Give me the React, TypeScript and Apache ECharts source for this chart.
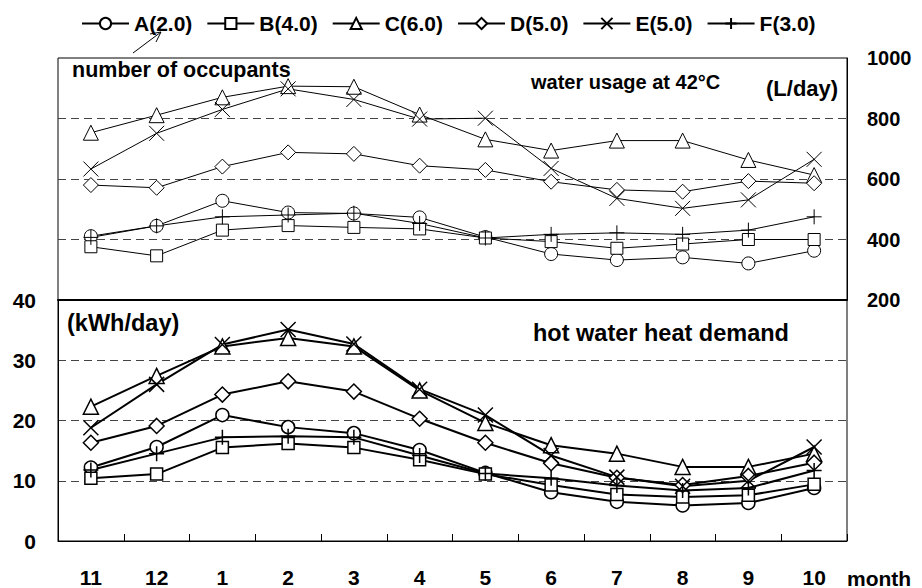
import React, { useEffect, useRef } from "react";
import * as echarts from "echarts";

const months = ["11", "12", "1", "2", "3", "4", "5", "6", "7", "8", "9", "10"];
const seriesNames = ["A(2.0)", "B(4.0)", "C(6.0)", "D(5.0)", "E(5.0)", "F(3.0)"];

// water usage at 42°C (L/day)
const waterA = [411, 445, 528, 489, 486, 473, 408, 352, 332, 341, 321, 363];
const waterB = [376, 346, 431, 446, 440, 435, 405, 393, 371, 385, 400, 400];
const waterC = [753, 811, 870, 907, 905, 813, 731, 694, 727, 727, 663, 613];
const waterD = [580, 571, 641, 688, 683, 644, 630, 591, 564, 558, 593, 586];
const waterE = [633, 751, 830, 898, 863, 798, 801, 635, 536, 503, 531, 665];
const waterF = [407, 445, 475, 481, 487, 453, 405, 417, 422, 417, 431, 475];

// hot water heat demand (kWh/day)
const heatA = [12.2, 15.6, 20.9, 18.9, 17.9, 15.1, 11.3, 8.1, 6.5, 5.9, 6.3, 8.8];
const heatB = [10.4, 11.1, 15.5, 16.2, 15.5, 13.5, 11.1, 9.3, 7.7, 7.3, 7.6, 9.4];
const heatC = [22.3, 27.4, 32.3, 33.7, 32.3, 25.0, 19.6, 15.9, 14.5, 12.3, 12.3, 14.5];
const heatD = [16.3, 19.1, 24.3, 26.5, 24.8, 20.3, 16.3, 12.9, 10.5, 9.3, 10.8, 13.0];
const heatE = [18.8, 26.0, 32.6, 35.1, 32.7, 25.2, 20.9, 14.2, 10.6, 9.1, 10.0, 15.6];
const heatF = [11.8, 14.5, 17.2, 17.4, 17.2, 14.2, 11.2, 10.4, 9.2, 8.4, 8.8, 11.7];

const waterTicks = { min: 200, max: 1000, interval: 200 };
const heatTicks = { min: 0, max: 40, interval: 10 };

const FONT = 'Arial, "Liberation Sans", sans-serif';

const symbols = [
  "circle",
  "rect",
  "triangle",
  "diamond",
  "path://M0,0L10,10M10,0L0,10",
  "path://M5,0L5,10M0,5L10,5",
];
const symbolSizes = [13, 12, 15, 15, 15, 15];

export default function App() {
  const ref = useRef<HTMLDivElement>(null);

  useEffect(() => {
    const chart = echarts.init(ref.current!, null, { renderer: "svg" });
    const water = [waterA, waterB, waterC, waterD, waterE, waterF];
    const heat = [heatA, heatB, heatC, heatD, heatE, heatF];

    const series: any[] = [];
    seriesNames.forEach((name, i) => {
      series.push({
        name,
        type: "line",
        xAxisIndex: 1,
        yAxisIndex: 1,
        data: heat[i],
        symbol: symbols[i],
        symbolSize: symbolSizes[i],
        lineStyle: { color: "#000", width: 2 },
        itemStyle: { color: "#fff", borderColor: "#000", borderWidth: 1.5 },
        z: 3,
      });
    });
    seriesNames.forEach((name, i) => {
      series.push({
        name,
        type: "line",
        xAxisIndex: 0,
        yAxisIndex: 0,
        data: water[i],
        symbol: symbols[i],
        symbolSize: symbolSizes[i],
        lineStyle: { color: "#000", width: 1 },
        itemStyle: { color: "#fff", borderColor: "#000", borderWidth: 1 },
        z: 3,
      });
    });

    const labelStyle = { color: "#000", fontSize: 20, fontWeight: "bold" as const, fontFamily: FONT };
    const splitStyle = {
      show: true,
      showMinLine: false,
      showMaxLine: false,
      lineStyle: { color: "#444", type: [8, 5] as any, width: 1 },
    };

    const txt = (text: string, x: number, y: number, size = 19) => ({
      type: "text",
      x,
      y,
      z: 10,
      style: {
        text,
        fill: "#000",
        font: `bold ${size}px ${FONT}`,
        textVerticalAlign: "middle",
        verticalAlign: "middle",
      },
    });

    chart.setOption({
      animation: false,
      backgroundColor: "#fff",
      textStyle: { fontFamily: FONT },
      legend: {
        data: seriesNames,
        left: 76,
        top: 8,
        itemWidth: 47,
        itemHeight: 14,
        itemGap: 14,
        textStyle: { ...labelStyle, fontSize: 21 },
      },
      grid: [
        { left: 58, right: 75, top: 58, height: 242, show: true, borderColor: "#000", borderWidth: 1 },
        { left: 58, right: 75, top: 300, height: 241, show: true, borderColor: "#000", borderWidth: 1 },
      ],
      xAxis: [
        {
          type: "category",
          gridIndex: 0,
          data: months,
          boundaryGap: true,
          position: "bottom",
          axisLine: { show: true, lineStyle: { color: "#000", width: 2 } },
          axisTick: { show: false },
          axisLabel: { show: false },
          splitLine: { show: false },
        },
        {
          type: "category",
          gridIndex: 1,
          data: months,
          boundaryGap: true,
          position: "bottom",
          axisLine: { show: true, lineStyle: { color: "#000", width: 1 } },
          axisTick: { show: true, inside: true, length: 7, interval: 0, lineStyle: { color: "#000" } },
          axisLabel: { ...labelStyle, fontSize: 21, margin: 26, interval: 0 },
          splitLine: { show: false },
        },
      ],
      yAxis: [
        {
          type: "value",
          gridIndex: 0,
          position: "right",
          ...waterTicks,
          axisLine: { show: true, lineStyle: { color: "#000" } },
          axisTick: { show: false },
          axisLabel: { ...labelStyle, margin: 20, formatter: (v: number) => String(v) },
          splitLine: splitStyle,
        },
        {
          type: "value",
          gridIndex: 1,
          position: "left",
          ...heatTicks,
          axisLine: { show: true, lineStyle: { color: "#000" } },
          axisTick: { show: false },
          axisLabel: { ...labelStyle, fontSize: 21, margin: 22 },
          splitLine: splitStyle,
        },
      ],
      series,
      graphic: [
        txt("number of occupants", 72, 70, 21.5),
        txt("water usage at 42°C", 531, 82, 20),
        txt("(L/day)", 766, 88, 22),
        txt("(kWh/day)", 67, 323, 23.5),
        txt("hot water heat demand", 533, 333, 23.5),
        txt("month", 847, 578, 21),
        {
          type: "line",
          z: 10,
          shape: { x1: 133, y1: 53, x2: 161, y2: 32 },
          style: { stroke: "#000", lineWidth: 1 },
        },
        {
          type: "polyline",
          z: 10,
          shape: { points: [[150, 34], [161, 32], [156, 42]] },
          style: { stroke: "#000", lineWidth: 1, fill: "none" },
        },
      ],
    });
    return () => chart.dispose();
  }, []);

  return (
    <div
      ref={ref}
      style={{ position: "absolute", left: 0, top: 0, width: 922, height: 588, background: "#fff" }}
    />
  );
}
